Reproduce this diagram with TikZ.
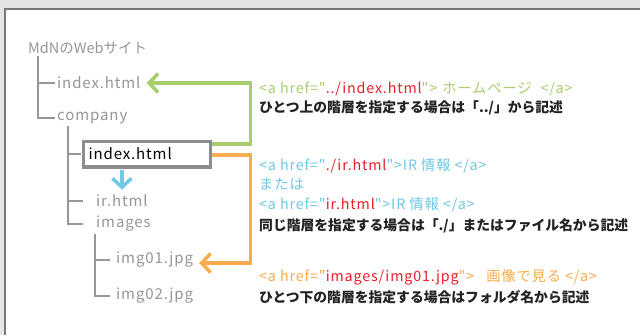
\documentclass[tikz,border=0pt]{standalone}
\usepackage{fontspec}
\setmainfont{Noto Sans CJK JP}
\newfontfamily\treefont{Noto Sans CJK JP}[LetterSpace=6]
\newfontfamily\codefont{Noto Sans CJK JP}[LetterSpace=6]
\usetikzlibrary{arrows.meta}
\usetikzlibrary{positioning}

\definecolor{framegray}{RGB}{228,228,228}
\definecolor{edgegray}{RGB}{120,120,124}
\definecolor{treegray}{RGB}{150,150,155}
\definecolor{boxgray}{RGB}{140,140,145}
\definecolor{upgreen}{RGB}{168,205,108}
\definecolor{samecyan}{RGB}{110,200,230}
\definecolor{downorange}{RGB}{249,171,78}
\definecolor{hrefred}{RGB}{232,32,42}
\definecolor{notetext}{RGB}{35,35,35}

\begin{document}
\begin{tikzpicture}[x=1pt, y=-1pt, item/.style={anchor=west, inner sep=2pt, text=treegray, font=\fontsize{15}{17}\treefont}, current/.style={item, draw=boxgray, line width=3.5pt, fill=white, text=black, text width=117pt, inner xsep=5pt, minimum height=25.5pt}, tree/.style={draw=treegray, line width=1.3pt}, link/.style={line width=3.5pt, ->, >={Straight Barb[length=9pt, width=19pt]}}, note/.style={anchor=base west, inner sep=0pt, font=\fontsize{14.3}{16}\codefont}, remark/.style={anchor=base west, inner sep=0pt, text=notetext, font=\fontsize{13.8}{16}\selectfont\bfseries}]
\useasboundingbox (0,0) rectangle (640,335);
\fill [framegray] (0,0) rectangle (640,335);
\fill [white] (5,9) rectangle (640,335);
\draw [edgegray, line width=1.5pt] (5,335) |- (640,9);
% folder tree
\node [item, font=\fontsize{14.5}{17}\selectfont] (root) at (26,48) {MdNのWebサイト};
\node [item] (topidx) at (55,83) {index.html};
\node [item] (company) at (55,118) {company};
\node [current] (coidx) at (81.75,154) {index.html};
\node [item] (irhtml) at (94,201) {ir.html};
\node [item] (images) at (94,224) {images};
\node [item] (imgone) at (114,260) {img01.jpg};
\node [item] (imgtwo) at (114,296) {img02.jpg};
\draw [tree] ([xshift=12pt]root.south west) |- (topidx.west);
\draw [tree] ([xshift=12pt]root.south west) |- (company.west);
\draw [tree] ([xshift=13pt]company.south west) |- ([xshift=-1pt]coidx.west);
\draw [tree] ([xshift=13pt]company.south west) |- ([xshift=-11pt]irhtml.west);
\draw [tree] ([xshift=13pt]company.south west) |- ([xshift=-11pt]images.west);
\draw [tree] ([xshift=1pt]images.south west) |- ([xshift=-4pt]imgone.west);
\draw [tree] ([xshift=1pt]images.south west) |- ([xshift=-4pt]imgtwo.west);
% links out of company/index.html
\draw [link, draw=upgreen, shorten >=4pt] ([yshift=10pt]coidx.east) -- ++(38,0) |- (topidx.east);
\draw [link, draw=downorange, shorten >=4pt] ([yshift=-1pt]coidx.east) -- ++(38,0) |- ([yshift=-3pt]imgone.east);
\draw [link, draw=samecyan, shorten <=1.75pt] (coidx.south -| irhtml.north) -- ([yshift=3pt]irhtml.north);
% notes
\node [note, text=upgreen] (upcode) at (259,93) {<a href="\textcolor{hrefred}{../index.html}">\hspace{5pt}ホームページ\hspace{9pt}</a>};
\node [remark] (uptext) at ([yshift=-19pt]upcode.base west) {ひとつ上の階層を指定する場合は「../」から記述};
\node [note, text=samecyan] (samecode) at (259,170) {<a href="\textcolor{hrefred}{./ir.html}">IR 情報 </a>};
\node [note, text=samecyan] (sameor) at ([yshift=-19.5pt]samecode.base west) {または};
\node [note, text=samecyan] (samealt) at ([yshift=-19.5pt]sameor.base west) {<a href="\textcolor{hrefred}{ir.html}">IR 情報 </a>};
\node [remark] (sametext) at ([yshift=-21pt]samealt.base west) {同じ階層を指定する場合は「./」またはファイル名から記述};
\node [note, text=downorange] (downcode) at (259,281) {<a href="\textcolor{hrefred}{images/img01.jpg}">\hspace{12pt}画像で見る\hspace{4pt}</a>};
\node [remark] (downtext) at ([yshift=-21pt]downcode.base west) {ひとつ下の階層を指定する場合はフォルダ名から記述};
\end{tikzpicture}
\end{document}
